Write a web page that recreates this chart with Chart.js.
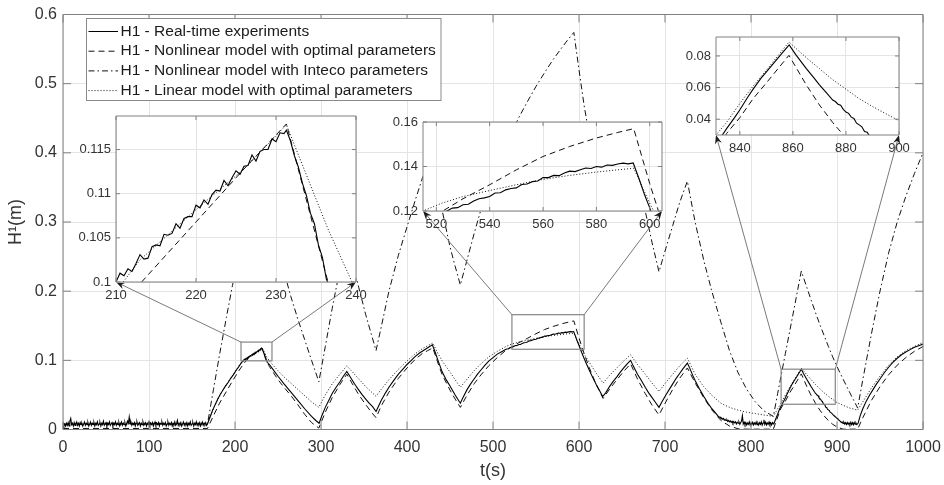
<!DOCTYPE html>
<html>
<head>
<meta charset="utf-8">
<script src="https://cdn.jsdelivr.net/npm/chart.js@4.4.1/dist/chart.umd.min.js"></script>
<style>
  html, body { margin: 0; padding: 0; background: #fff; }
  #wrap { position: relative; width: 944px; height: 485px; }
  canvas { position: absolute; }
</style>
</head>
<body>
<div id="wrap">
  <canvas id="main" width="944" height="485" style="left:0;top:0"></canvas>
  <canvas id="in1"></canvas>
  <canvas id="in2"></canvas>
  <canvas id="in3"></canvas>
</div>
<script>
// ---- data ----
var legendLabels = [
  'H1 - Real-time experiments',
  'H1 - Nonlinear model with optimal parameters',
  'H1 - Nonlinear model with Inteco parameters',
  'H1 - Linear model with optimal parameters'
];

// real-time experiment: [t, H1]
var expData = [
  [0,0.003],[1,0.006],[2,0.008],[3,0.005],[4,0.009],[5,0.006],[6,0.010],[7,0.005],[8,0.012],[9,0.016],
  [10,0.007],[11,0.009],[12,0.005],[13,0.010],[14,0.006],[15,0.008],[16,0.011],[17,0.006],[18,0.009],[19,0.005],
  [20,0.010],[21,0.007],[22,0.009],[23,0.005],[24,0.008],[25,0.011],[26,0.006],[27,0.009],[28,0.007],[29,0.010],
  [30,0.005],[31,0.008],[32,0.011],[33,0.006],[34,0.009],[35,0.007],[36,0.010],[37,0.005],[38,0.009],[39,0.007],
  [40,0.011],[41,0.006],[42,0.008],[43,0.010],[44,0.005],[45,0.009],[46,0.007],[47,0.012],[48,0.006],[49,0.008],
  [50,0.010],[51,0.005],[52,0.009],[53,0.007],[54,0.011],[55,0.006],[56,0.008],[57,0.010],[58,0.005],[59,0.009],
  [60,0.007],[61,0.011],[62,0.006],[63,0.009],[64,0.007],[65,0.010],[66,0.005],[67,0.008],[68,0.011],[69,0.006],
  [70,0.009],[71,0.007],[72,0.010],[73,0.005],[74,0.008],[75,0.012],[76,0.009],[77,0.018],[78,0.008],[79,0.011],
  [80,0.006],[81,0.009],[82,0.007],[83,0.010],[84,0.005],[85,0.009],[86,0.011],[87,0.006],[88,0.008],[89,0.010],
  [90,0.005],[91,0.009],[92,0.007],[93,0.011],[94,0.006],[95,0.008],[96,0.010],[97,0.005],[98,0.009],[99,0.007],
  [100,0.011],[101,0.006],[102,0.009],[103,0.007],[104,0.010],[105,0.005],[106,0.008],[107,0.011],[108,0.006],[109,0.009],
  [110,0.007],[111,0.010],[112,0.005],[113,0.009],[114,0.008],[115,0.011],[116,0.006],[117,0.009],[118,0.007],[119,0.010],
  [120,0.005],[121,0.008],[122,0.011],[123,0.006],[124,0.009],[125,0.007],[126,0.010],[127,0.005],[128,0.009],[129,0.007],
  [130,0.011],[131,0.006],[132,0.008],[133,0.013],[134,0.006],[135,0.009],[136,0.007],[137,0.010],[138,0.005],[139,0.008],
  [140,0.011],[141,0.006],[142,0.009],[143,0.007],[144,0.010],[145,0.005],[146,0.009],[147,0.007],[148,0.011],[149,0.006],
  [150,0.008],[151,0.010],[152,0.005],[153,0.009],[154,0.007],[155,0.011],[156,0.006],[157,0.009],[158,0.007],[159,0.010],
  [160,0.005],[161,0.008],[162,0.011],[163,0.006],[164,0.009],[165,0.007],[166,0.010],[167,0.006],[168,0.008],
  [171,0.018],[174,0.028],[177,0.036],[180,0.044],[183,0.051],[186,0.057],[189,0.063],[192,0.068],[195,0.074],[198,0.079],
  [201,0.085],[204,0.090],[207,0.096],
  [210,0.1000],[210.5,0.1010],[211,0.1007],[211.5,0.1015],[212,0.1012],[212.5,0.1021],[213,0.1031],[213.5,0.1026],[214,0.1027],[214.5,0.1040],
  [215,0.1042],[215.5,0.1041],[216,0.1054],[216.5,0.1053],[217,0.1055],[217.5,0.1066],[218,0.1061],[218.5,0.1072],[219,0.1074],[219.5,0.1074],
  [220,0.1087],[220.5,0.1084],[221,0.1093],[221.5,0.1088],[222,0.1099],[222.5,0.1104],[223,0.1103],[223.5,0.1115],[224,0.1109],[224.5,0.1118],
  [225,0.1126],[225.5,0.1122],[226,0.1131],[226.5,0.1132],[227,0.1144],[227.5,0.1137],[228,0.1148],[228.5,0.1150],[229,0.1150],[229.5,0.1162],
  [230,0.1159],[230.5,0.1169],[231,0.1168],[231.3,0.1172],
  [231.8,0.1160],[232.3,0.1143],[232.8,0.1130],[233.3,0.1112],[233.8,0.1098],[234.3,0.1078],[234.8,0.1066],[235.3,0.1042],[235.8,0.1028],[236.3,0.1003],
  [236.8,0.0994],[237.5,0.0972],
  [240,0.094],[245,0.0855],[250,0.077],[257,0.066],[265,0.054],[273,0.042],[281,0.030],[289,0.019],[294,0.013],[297.8,0.009],
  [301,0.020],[305,0.032],[309,0.042],[313,0.052],[317,0.060],[322,0.069],[326,0.077],[330,0.084],
  [333,0.078],[336,0.072],[340,0.064],[344,0.057],[348,0.050],[352,0.044],[356,0.038],[360,0.033],[364,0.026],
  [367,0.034],[370,0.042],[375,0.053],[379,0.061],[384,0.070],[390,0.080],[395,0.087],[400,0.094],[405,0.100],[410,0.106],
  [415,0.111],[420,0.115],[425,0.119],[429.5,0.1225],
  [433,0.111],[436,0.100],[441,0.083],[446,0.071],[450,0.063],[456,0.050],[462,0.038],
  [465,0.046],[470,0.058],[474,0.066],[478,0.073],[482,0.080],[486,0.086],[490,0.092],[495,0.099],[500,0.104],[505,0.109],
  [510,0.1125],[514,0.1152],
  [516,0.1163],[518,0.1168],[520,0.1184],[522,0.1187],[524,0.1200],[526,0.1213],[528,0.1215],[530,0.1228],[532,0.1230],[534,0.1245],
  [536,0.1255],[538,0.1259],[540,0.1265],[542,0.1281],[544,0.1282],[546,0.1295],[548,0.1301],[550,0.1304],[552,0.1319],[554,0.1321],
  [556,0.1332],[558,0.1335],[560,0.1350],[562,0.1350],[564,0.1360],[566,0.1359],[568,0.1371],[570,0.1379],[572,0.1377],[574,0.1385],
  [576,0.1393],[578,0.1391],[580,0.1400],[582,0.1397],[584,0.1407],[586,0.1405],[588,0.1411],[590,0.1415],[592,0.1412],[593.8,0.1416],
  [596,0.1345],[598,0.1275],[600,0.1214],[603,0.1117],[606,0.1027],[609,0.094],[612,0.0856],[616,0.075],[620,0.0652],[624,0.056],
  [627.5,0.0476],
  [631,0.053],[636,0.063],[640,0.070],[644,0.076],[648,0.083],[652,0.089],[656,0.095],[660,0.100],
  [663,0.092],[668,0.080],[672,0.072],[677,0.061],[681,0.053],[685,0.046],[689,0.039],[693,0.032],
  [696,0.039],[701,0.050],[705,0.058],[709,0.066],[713,0.074],[717,0.081],[721,0.088],[726,0.096],
  [729,0.088],[732,0.079],[735,0.071],[740,0.059],[745,0.048],[750,0.038],[754,0.031],[758,0.025],
  [762,0.019],[763,0.0175],[764,0.018],[765,0.016],[766,0.0165],[767,0.015],[768,0.016],[769,0.0135],[770,0.0145],[771,0.013],
  [772,0.014],[773,0.0115],[774,0.013],[775,0.011],[776,0.0125],[777,0.0105],[778,0.012],[779,0.009],[780,0.0115],[781,0.0095],
  [782,0.011],[783,0.008],[784,0.0105],[785,0.009],[786,0.011],[787,0.0075],[788,0.010],[789,0.012],[790,0.020],[791,0.008],
  [792,0.0105],[793,0.007],[794,0.010],[795,0.0065],[796,0.0095],[797,0.0075],[798,0.011],[799,0.0065],[800,0.0095],[801,0.008],
  [802,0.0105],[803,0.0065],[804,0.0095],[805,0.0075],[806,0.011],[807,0.007],[808,0.0095],[809,0.0065],[810,0.010],[811,0.0075],
  [812,0.011],[813,0.0065],[814,0.0095],[815,0.014],[816,0.0075],[817,0.0105],[818,0.0065],[819,0.0095],[820,0.0075],[821,0.011],
  [822,0.007],[823,0.0095],[824,0.0065],[825,0.010],[826.5,0.008],
  [829,0.016],[831,0.022],[833,0.029],[835,0.034],[838,0.041],[840,0.046],[843,0.054],[845,0.059],[848,0.066],[850,0.070],
  [853,0.076],[856,0.082],[858.6,0.087],
  [861,0.081],[865,0.0722],[868,0.066],[870,0.0617],[873,0.056],[875,0.0521],
  [876,0.0512],[877,0.0495],[878,0.0488],[879,0.0462],[880,0.0445],[881,0.0437],[882,0.0413],[883,0.0405],[884,0.0375],[885,0.0364],
  [886,0.0352],[887,0.0322],[888,0.0318],[889,0.0291],[890,0.0284],[891,0.0275],[892,0.0251],[893,0.0244],[895,0.0218],[897,0.0195],
  [900,0.0161],[901,0.015],[902,0.0138],[903,0.0125],[904,0.0118],[905,0.0102],[906,0.0108],[907,0.0088],[908,0.0105],[909,0.0078],
  [910,0.0098],[911,0.0072],[912,0.0101],[913,0.0075],[914,0.0095],[915,0.007],[916,0.0105],[917,0.0072],[918,0.0098],[919,0.0068],
  [920,0.0102],[921,0.0075],[922,0.0096],[923,0.007],[924.5,0.009],
  [927,0.020],[930,0.030],[934,0.041],[938,0.050],[942,0.058],[946,0.066],[950,0.073],[955,0.082],[960,0.090],[965,0.097],
  [970,0.103],[975,0.108],[980,0.112],[985,0.1155],[990,0.119],[995,0.1212],[1000,0.1235]
];

// model time grid (s)
var tModel = [
  0, 168, 175, 182, 190, 197, 205, 213, 220, 226,
  231.3, 236.5, 240, 250, 257, 265, 273, 281, 289, 297.5,
  305, 313, 322, 330, 336, 344, 352, 358, 364, 370,
  379, 390, 400, 410, 418, 424, 430, 436, 441, 450,
  456, 462, 470, 478, 486, 495, 505, 515, 522, 530,
  540, 550, 560, 570, 580, 588, 594, 600, 606, 612,
  620, 628, 636, 644, 652, 660, 668, 677, 685, 693,
  701, 709, 717, 726, 735, 745, 754, 765, 775, 785,
  795, 805, 815, 826, 831, 835, 840, 845, 850, 858.5,
  865, 870, 875, 880, 885, 890, 895, 900, 907, 915,
  924, 930, 940, 950, 960, 970, 980, 990, 1000
];
var hNonlinOpt = [
  0.0015, 0.0015, 0.02, 0.038, 0.055, 0.07, 0.086, 0.0998, 0.1068, 0.1128,
  0.1179, 0.1, 0.091, 0.072, 0.061, 0.049, 0.036, 0.022, 0.01, 0.002,
  0.025, 0.046, 0.065, 0.08, 0.067, 0.05, 0.036, 0.026, 0.017, 0.034,
  0.054, 0.074, 0.089, 0.102, 0.11, 0.114, 0.118, 0.096, 0.079, 0.057,
  0.044, 0.032, 0.05, 0.066, 0.079, 0.092, 0.104, 0.1145, 0.1197, 0.1255,
  0.1318, 0.1385, 0.1445, 0.149, 0.1528, 0.1553, 0.157, 0.1323, 0.1097, 0.0892,
  0.0652, 0.045, 0.059, 0.072, 0.084, 0.095, 0.073, 0.052, 0.035, 0.021,
  0.04, 0.058, 0.074, 0.089, 0.0675, 0.046, 0.029, 0.013, 0.005, 0.001,
  0.0005, 0.0005, 0.0005, 0.0005, 0.018, 0.031, 0.041, 0.053, 0.063, 0.0804,
  0.0618, 0.049, 0.0379, 0.0281, 0.0198, 0.0129, 0.0075, 0.0036, 0.0005, 0.0005,
  0.0005, 0.017, 0.042, 0.062, 0.079, 0.093, 0.104, 0.113, 0.12
];
var hNonlinInteco = [
  0.008, 0.008, 0.058, 0.108, 0.162, 0.208, 0.25, 0.288, 0.318, 0.342,
  0.36, 0.332, 0.314, 0.262, 0.228, 0.192, 0.16, 0.13, 0.1, 0.069,
  0.12, 0.175, 0.232, 0.275, 0.245, 0.205, 0.166, 0.14, 0.114, 0.148,
  0.2, 0.252, 0.293, 0.333, 0.364, 0.38, 0.392, 0.35, 0.316, 0.264,
  0.236, 0.209, 0.246, 0.283, 0.318, 0.35, 0.383, 0.412, 0.43, 0.451,
  0.474, 0.496, 0.516, 0.535, 0.552, 0.565, 0.574, 0.52, 0.468, 0.425,
  0.375, 0.335, 0.36, 0.385, 0.408, 0.43, 0.375, 0.316, 0.27, 0.228,
  0.262, 0.295, 0.328, 0.359, 0.3, 0.245, 0.202, 0.155, 0.114, 0.082,
  0.058, 0.04, 0.027, 0.019, 0.052, 0.078, 0.11, 0.142, 0.174, 0.229,
  0.205, 0.187, 0.169, 0.152, 0.136, 0.12, 0.105, 0.091, 0.073, 0.053,
  0.031, 0.072, 0.138, 0.2, 0.255, 0.3, 0.337, 0.37, 0.4
];
var hLinOpt = [
  0.009, 0.009, 0.03, 0.049, 0.065, 0.078, 0.093, 0.1025, 0.1082, 0.1128,
  0.1178, 0.106, 0.099, 0.085, 0.076, 0.067, 0.058, 0.049, 0.04, 0.032,
  0.05, 0.066, 0.08, 0.092, 0.084, 0.073, 0.062, 0.055, 0.048, 0.058,
  0.072, 0.087, 0.099, 0.11, 0.117, 0.121, 0.125, 0.11, 0.099, 0.083,
  0.072, 0.061, 0.073, 0.085, 0.095, 0.105, 0.113, 0.12, 0.1235, 0.1265,
  0.1292, 0.1318, 0.1342, 0.136, 0.1375, 0.1385, 0.1392, 0.1235, 0.109, 0.097,
  0.0815, 0.067, 0.079, 0.089, 0.099, 0.108, 0.094, 0.08, 0.067, 0.055,
  0.068, 0.08, 0.092, 0.103, 0.08, 0.062, 0.05, 0.038, 0.032, 0.028,
  0.025, 0.023, 0.021, 0.019, 0.03, 0.038, 0.05, 0.061, 0.071, 0.0888,
  0.079, 0.072, 0.065, 0.059, 0.053, 0.048, 0.0435, 0.039, 0.035, 0.031,
  0.028, 0.04, 0.06, 0.077, 0.093, 0.105, 0.114, 0.12, 0.126
];

// axes
var xTicks = [0, 100, 200, 300, 400, 500, 600, 700, 800, 900, 1000];
var yTicks = [0, 0.1, 0.2, 0.3, 0.4, 0.5, 0.6];
var in1X = [210, 240], in1Y = [0.1, 0.1188];
var in1XTicks = [210, 220, 230, 240], in1YTicks = [0.1, 0.105, 0.11, 0.115];
var in2X = [515, 604.6], in2Y = [0.12, 0.16];
var in2XTicks = [520, 540, 560, 580, 600], in2YTicks = [0.12, 0.14, 0.16];
var in3X = [831, 900], in3Y = [0.03, 0.092];
var in3XTicks = [840, 860, 880, 900], in3YTicks = [0.04, 0.06, 0.08];

// ---- drawing ----
var FONT = '"Liberation Sans", Arial, Helvetica, sans-serif';
Chart.defaults.font.family = FONT;
Chart.defaults.color = '#333';
var GRID = '#e4e4e4', BOX = '#808080', NONE = 'rgba(0,0,0,0)';

// inset placement on the page (plot area) and the zoom box they come from
var insets = [
  {id: 'in1', box: {l: 116, t: 116, r: 356, b: 282}, rect: [207, 243, 0.0993, 0.1264],
   xr: in1X, yr: in1Y, xt: in1XTicks, yt: in1YTicks},
  {id: 'in2', box: {l: 423, t: 122, r: 662, b: 211}, rect: [522, 606, 0.116, 0.166],
   xr: in2X, yr: in2Y, xt: in2XTicks, yt: in2YTicks},
  {id: 'in3', box: {l: 716, t: 37, r: 899, b: 135}, rect: [835, 898, 0.0365, 0.0872],
   xr: in3X, yr: in3Y, xt: in3XTicks, yt: in3YTicks}
];

function fmt(v) { return String(+Number(v).toFixed(4)); }

function makeDatasets(withInteco) {
  function pts(arr) { return tModel.map(function (t, i) { return {x: t, y: arr[i]}; }); }
  var base = {pointRadius: 0, tension: 0, fill: false, borderColor: '#111', borderWidth: 1};
  return [
    Object.assign({}, base, {data: expData.map(function (p) { return {x: p[0], y: p[1]}; }),
      borderColor: '#000', borderWidth: 1.1, borderDash: []}),
    Object.assign({}, base, {data: pts(hNonlinOpt), borderDash: [6, 4]}),
    Object.assign({}, base, {data: pts(hNonlinInteco), borderDash: [6, 3, 1.5, 3], hidden: !withInteco}),
    Object.assign({}, base, {data: pts(hLinOpt), borderDash: [1, 2]})
  ];
}

var frame = {
  id: 'frame',
  beforeDraw: function (chart, args, o) {
    if (!o.fill) return;
    var a = chart.chartArea, ctx = chart.ctx;
    ctx.save();
    ctx.fillStyle = '#fff';
    ctx.fillRect(a.left, a.top, a.right - a.left, a.bottom - a.top);
    ctx.restore();
  },
  afterDatasetsDraw: function (chart, args, o) {
    var a = chart.chartArea, ctx = chart.ctx, sx = chart.scales.x, sy = chart.scales.y;
    ctx.save();
    ctx.strokeStyle = BOX;
    ctx.lineWidth = 1;
    ctx.beginPath();
    sx.ticks.forEach(function (t) {
      var p = sx.getPixelForValue(t.value);
      ctx.moveTo(p, a.bottom); ctx.lineTo(p, a.bottom - o.len);
      ctx.moveTo(p, a.top); ctx.lineTo(p, a.top + o.len);
    });
    sy.ticks.forEach(function (t) {
      var p = sy.getPixelForValue(t.value);
      ctx.moveTo(a.left, p); ctx.lineTo(a.left + o.len, p);
      ctx.moveTo(a.right, p); ctx.lineTo(a.right - o.len, p);
    });
    ctx.rect(a.left, a.top, a.right - a.left, a.bottom - a.top);
    ctx.stroke();
    ctx.restore();
  }
};

function arrow(ctx, x0, y0, x1, y1) {
  var ang = Math.atan2(y1 - y0, x1 - x0), L = 9, W = 3.5;
  var c = Math.cos(ang), s = Math.sin(ang);
  ctx.strokeStyle = '#7a7a7a';
  ctx.lineWidth = 1;
  ctx.beginPath();
  ctx.moveTo(x0, y0);
  ctx.lineTo(x1 - 5 * c, y1 - 5 * s);
  ctx.stroke();
  ctx.fillStyle = '#1a1a1a';
  ctx.beginPath();
  ctx.moveTo(x1, y1);
  ctx.lineTo(x1 - L * c + W * s, y1 - L * s - W * c);
  ctx.lineTo(x1 - 6 * c, y1 - 6 * s);
  ctx.lineTo(x1 - L * c - W * s, y1 - L * s + W * c);
  ctx.closePath();
  ctx.fill();
}

var extras = {
  id: 'extras',
  afterDraw: function (chart) {
    var ctx = chart.ctx, sx = chart.scales.x, sy = chart.scales.y;
    ctx.save();
    insets.forEach(function (ins) {
      var r = ins.rect;
      var x0 = sx.getPixelForValue(r[0]), x1 = sx.getPixelForValue(r[1]);
      var yb = sy.getPixelForValue(r[2]), yt = sy.getPixelForValue(r[3]);
      ctx.strokeStyle = '#858585';
      ctx.lineWidth = 1.2;
      ctx.strokeRect(x0, yt, x1 - x0, yb - yt);
      arrow(ctx, x0, yt, ins.box.l, ins.box.b);
      arrow(ctx, x1, yt, ins.box.r, ins.box.b);
    });

    // legend box
    var lg = {l: 86, t: 18, r: 440.5, b: 100, row0: 31.5, dy: 19.7, s0: 88.5, s1: 118, tx: 120.5};
    ctx.fillStyle = '#fff';
    ctx.fillRect(lg.l, lg.t, lg.r - lg.l, lg.b - lg.t);
    ctx.strokeStyle = '#8a8a8a';
    ctx.lineWidth = 1;
    ctx.strokeRect(lg.l + 0.5, lg.t + 0.5, lg.r - lg.l, lg.b - lg.t);
    chart.data.datasets.forEach(function (ds, i) {
      var yy = lg.row0 + i * lg.dy;
      ctx.setLineDash(ds.borderDash);
      ctx.strokeStyle = ds.borderColor;
      ctx.lineWidth = 1;
      ctx.beginPath();
      ctx.moveTo(lg.s0, yy);
      ctx.lineTo(lg.s1, yy);
      ctx.stroke();
      ctx.setLineDash([]);
      ctx.fillStyle = '#1a1a1a';
      ctx.font = '15.5px ' + FONT;
      ctx.textBaseline = 'middle';
      ctx.textAlign = 'left';
      ctx.fillText(legendLabels[i], lg.tx, yy);
    });
    ctx.restore();
  }
};

function tickSetter(arr) {
  return function (s) { s.ticks = arr.map(function (v) { return {value: v}; }); };
}

// insets (they sit on top of the main canvas)
insets.forEach(function (ins) {
  var c = document.getElementById(ins.id);
  var padL = 48, padT = 16, padR = 18, padB = 26;
  var b = ins.box;
  c.width = b.r - b.l + padL + padR;
  c.height = b.b - b.t + padT + padB;
  c.style.left = (b.l - padL) + 'px';
  c.style.top = (b.t - padT) + 'px';
  new Chart(c, {
    type: 'line',
    data: {datasets: makeDatasets(false)},
    options: {
      responsive: false, animation: false, devicePixelRatio: 1,
      layout: {padding: {top: padT, right: padR, left: 0, bottom: 0}},
      plugins: {legend: {display: false}, tooltip: {enabled: false}, frame: {len: 4, fill: true}},
      scales: {
        x: {type: 'linear', min: ins.xr[0], max: ins.xr[1],
            afterBuildTicks: tickSetter(ins.xt),
            afterFit: function (s) { s.height = padB; },
            grid: {color: GRID, drawTicks: true, tickLength: 4, tickColor: NONE}, border: {display: false},
            ticks: {font: {size: 13}, padding: 2, maxRotation: 0, autoSkip: false, callback: fmt}},
        y: {type: 'linear', min: ins.yr[0], max: ins.yr[1],
            afterBuildTicks: tickSetter(ins.yt),
            afterFit: function (s) { s.width = padL; },
            grid: {color: GRID, drawTicks: true, tickLength: 3, tickColor: NONE}, border: {display: false},
            ticks: {font: {size: 13}, padding: 2, autoSkip: false, callback: fmt}}
      }
    },
    plugins: [frame]
  });
});

new Chart(document.getElementById('main'), {
  type: 'line',
  data: {datasets: makeDatasets(true)},
  options: {
    responsive: false, animation: false, devicePixelRatio: 1,
    layout: {padding: {top: 14.5, right: 21, left: 0, bottom: 0}},
    plugins: {legend: {display: false}, tooltip: {enabled: false}, frame: {len: 8, fill: false}},
    scales: {
      x: {type: 'linear', min: 0, max: 1000,
          afterBuildTicks: tickSetter(xTicks),
          afterFit: function (s) { s.height = 55.5; },
          grid: {color: GRID, drawTicks: true, tickLength: 6, tickColor: NONE}, border: {display: false},
          ticks: {font: {size: 16}, padding: 2, maxRotation: 0, autoSkip: false, callback: fmt},
          title: {display: true, text: 't(s)', font: {size: 18}, padding: {top: 0, bottom: 3}}},
      y: {type: 'linear', min: 0, max: 0.6,
          afterBuildTicks: tickSetter(yTicks),
          afterFit: function (s) { s.width = 63; },
          grid: {color: GRID, drawTicks: true, tickLength: 3, tickColor: NONE}, border: {display: false},
          ticks: {font: {size: 16}, padding: 3, autoSkip: false, callback: fmt},
          title: {display: true, text: 'H¹(m)', font: {size: 18}, padding: {top: 5, bottom: 0}}}
    }
  },
  plugins: [frame, extras]
});
</script>
</body>
</html>
